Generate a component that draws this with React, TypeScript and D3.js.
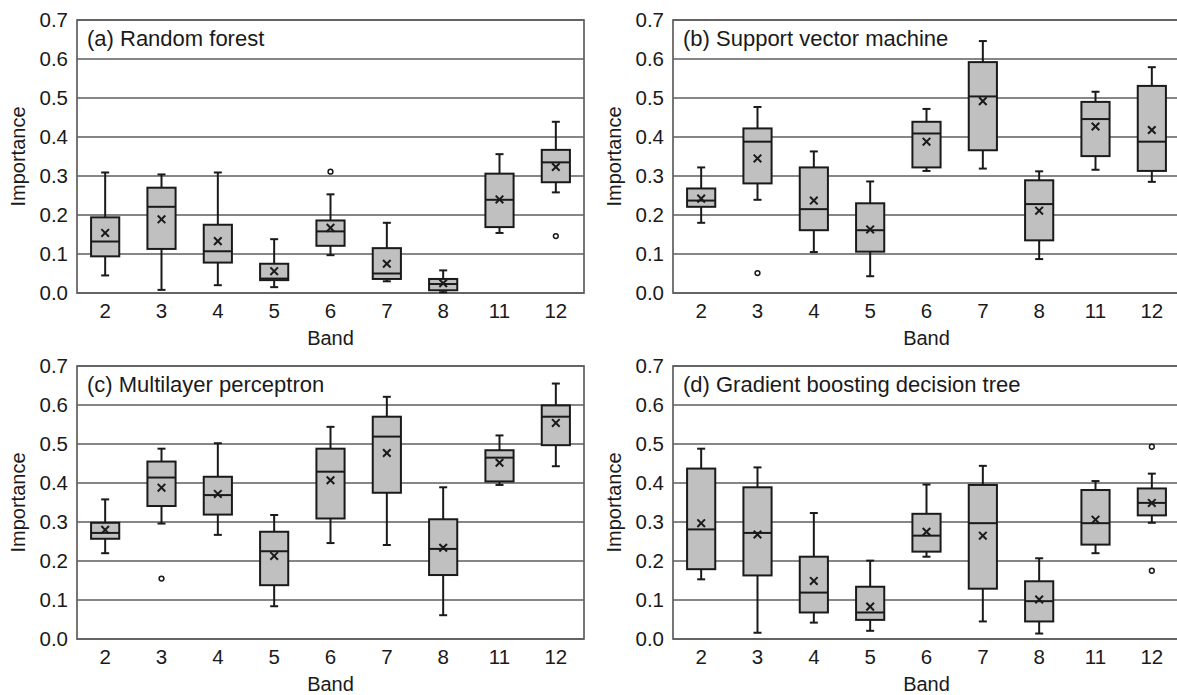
import React from "react";
import * as d3 from "d3";

// Band categories and y-axis ticks
const bands = ["2", "3", "4", "5", "6", "7", "8", "11", "12"];
const yTicks = [0, 0.1, 0.2, 0.3, 0.4, 0.5, 0.6, 0.7];

// Each row: [whiskerLow, q1, median, q3, whiskerHigh, mean]
const rfStats = [
  [0.045, 0.094, 0.132, 0.194, 0.309, 0.154],
  [0.008, 0.113, 0.221, 0.27, 0.304, 0.189],
  [0.02, 0.078, 0.107, 0.175, 0.309, 0.133],
  [0.015, 0.033, 0.037, 0.075, 0.138, 0.056],
  [0.097, 0.121, 0.158, 0.186, 0.253, 0.167],
  [0.03, 0.036, 0.05, 0.115, 0.18, 0.075],
  [0.002, 0.007, 0.023, 0.036, 0.058, 0.025],
  [0.154, 0.169, 0.239, 0.306, 0.356, 0.24],
  [0.258, 0.284, 0.335, 0.367, 0.439, 0.323],
];
const rfOutliers = [
  { band: "6", value: 0.311 },
  { band: "12", value: 0.146 },
];

const svmStats = [
  [0.18, 0.221, 0.237, 0.268, 0.322, 0.242],
  [0.239, 0.281, 0.388, 0.422, 0.477, 0.345],
  [0.105, 0.161, 0.215, 0.322, 0.363, 0.237],
  [0.043, 0.106, 0.161, 0.23, 0.286, 0.163],
  [0.313, 0.322, 0.409, 0.439, 0.472, 0.388],
  [0.319, 0.366, 0.504, 0.592, 0.646, 0.492],
  [0.087, 0.135, 0.228, 0.289, 0.312, 0.211],
  [0.316, 0.351, 0.446, 0.49, 0.516, 0.427],
  [0.285, 0.313, 0.388, 0.531, 0.579, 0.418],
];
const svmOutliers = [{ band: "3", value: 0.051 }];

const mlpStats = [
  [0.22, 0.257, 0.272, 0.298, 0.358, 0.28],
  [0.296, 0.341, 0.414, 0.455, 0.488, 0.388],
  [0.267, 0.319, 0.369, 0.416, 0.502, 0.372],
  [0.084, 0.138, 0.225, 0.275, 0.318, 0.213],
  [0.246, 0.309, 0.429, 0.488, 0.544, 0.407],
  [0.241, 0.375, 0.519, 0.57, 0.621, 0.477],
  [0.061, 0.164, 0.231, 0.307, 0.389, 0.234],
  [0.395, 0.404, 0.465, 0.484, 0.522, 0.452],
  [0.443, 0.497, 0.57, 0.599, 0.655, 0.554],
];
const mlpOutliers = [{ band: "3", value: 0.155 }];

const gbdtStats = [
  [0.153, 0.179, 0.281, 0.437, 0.488, 0.297],
  [0.016, 0.163, 0.272, 0.389, 0.44, 0.268],
  [0.042, 0.068, 0.119, 0.211, 0.323, 0.149],
  [0.021, 0.049, 0.068, 0.134, 0.201, 0.083],
  [0.211, 0.224, 0.265, 0.321, 0.396, 0.275],
  [0.045, 0.129, 0.297, 0.395, 0.444, 0.265],
  [0.014, 0.045, 0.097, 0.148, 0.207, 0.101],
  [0.22, 0.242, 0.297, 0.382, 0.405, 0.306],
  [0.298, 0.317, 0.349, 0.386, 0.424, 0.349],
];
const gbdtOutliers = [
  { band: "12", value: 0.493 },
  { band: "12", value: 0.175 },
];

const panelTitles = [
  "(a) Random forest",
  "(b) Support vector machine",
  "(c) Multilayer perceptron",
  "(d) Gradient boosting decision tree",
];

const FONT = "'Liberation Sans', Arial, Helvetica, sans-serif";
const W = 1177;
const H = 695;
const PW = 507;
const PH = 273;

type Outlier = { band: string; value: number };

function Panel({
  left,
  top,
  title,
  stats,
  outliers,
}: {
  left: number;
  top: number;
  title: string;
  stats: number[][];
  outliers: Outlier[];
}) {
  const x = d3.scaleBand<string>().domain(bands).range([0, PW]).padding(0);
  const y = d3.scaleLinear().domain([0, 0.7]).range([PH, 0]);
  const bw = x.bandwidth() * 0.5;
  const cap = 4;
  const mk = 3.8;
  const gridColor = "#5e5e5e";
  return (
    <g transform={`translate(${left},${top})`}>
      {/* grid lines */}
      {yTicks.map((t) => (
        <line
          key={`g${t}`}
          x1={0}
          x2={PW}
          y1={y(t)}
          y2={y(t)}
          stroke={gridColor}
          strokeWidth={1.7}
        />
      ))}
      {/* frame */}
      <rect x={0} y={0} width={PW} height={PH} fill="none" stroke={gridColor} strokeWidth={1.7} />
      {/* y tick labels */}
      {yTicks.map((t) => (
        <text
          key={`yt${t}`}
          x={-9}
          y={y(t)}
          dy="0.33em"
          textAnchor="end"
          fontSize={20.5}
          fontFamily={FONT}
          fill="#1a1a1a"
        >
          {t.toFixed(1)}
        </text>
      ))}
      {/* x tick labels */}
      {bands.map((b) => (
        <text
          key={`xt${b}`}
          x={(x(b) as number) + x.bandwidth() / 2}
          y={PH + 25}
          textAnchor="middle"
          fontSize={20.5}
          fontFamily={FONT}
          fill="#1a1a1a"
        >
          {b}
        </text>
      ))}
      <text
        x={PW / 2}
        y={PH + 52}
        textAnchor="middle"
        fontSize={20}
        fontFamily={FONT}
        fill="#1a1a1a"
      >
        Band
      </text>
      <text
        transform={`translate(${-52},${PH / 2}) rotate(-90)`}
        textAnchor="middle"
        fontSize={20}
        fontFamily={FONT}
        fill="#1a1a1a"
      >
        Importance
      </text>
      <text x={10} y={26} fontSize={22} fontFamily={FONT} fill="#1a1a1a">
        {title}
      </text>
      {/* boxes */}
      {stats.map((s, i) => {
        const cx = (x(bands[i]) as number) + x.bandwidth() / 2;
        const [lo, q1, med, q3, hi, mean] = s;
        return (
          <g key={`b${i}`} stroke="#1a1a1a" strokeWidth={2}>
            <line x1={cx} x2={cx} y1={y(hi)} y2={y(q3)} />
            <line x1={cx} x2={cx} y1={y(q1)} y2={y(lo)} />
            <line x1={cx - cap} x2={cx + cap} y1={y(hi)} y2={y(hi)} />
            <line x1={cx - cap} x2={cx + cap} y1={y(lo)} y2={y(lo)} />
            <rect
              x={cx - bw / 2}
              y={y(q3)}
              width={bw}
              height={y(q1) - y(q3)}
              fill="#c0c0c0"
            />
            <line x1={cx - bw / 2} x2={cx + bw / 2} y1={y(med)} y2={y(med)} />
            <line x1={cx - mk} x2={cx + mk} y1={y(mean) - mk} y2={y(mean) + mk} />
            <line x1={cx - mk} x2={cx + mk} y1={y(mean) + mk} y2={y(mean) - mk} />
          </g>
        );
      })}
      {outliers.map((o, i) => (
        <circle
          key={`o${i}`}
          cx={(x(o.band) as number) + x.bandwidth() / 2}
          cy={y(o.value)}
          r={2.4}
          fill="white"
          stroke="#1a1a1a"
          strokeWidth={1.5}
        />
      ))}
    </g>
  );
}

export default function App() {
  return (
    <svg
      width={W}
      height={H}
      style={{ position: "absolute", left: 0, top: 0, background: "white" }}
    >
      <rect width={W} height={H} fill="white" />
      <Panel left={77} top={20} title={panelTitles[0]} stats={rfStats} outliers={rfOutliers} />
      <Panel left={673} top={20} title={panelTitles[1]} stats={svmStats} outliers={svmOutliers} />
      <Panel left={77} top={366} title={panelTitles[2]} stats={mlpStats} outliers={mlpOutliers} />
      <Panel left={673} top={366} title={panelTitles[3]} stats={gbdtStats} outliers={gbdtOutliers} />
    </svg>
  );
}
